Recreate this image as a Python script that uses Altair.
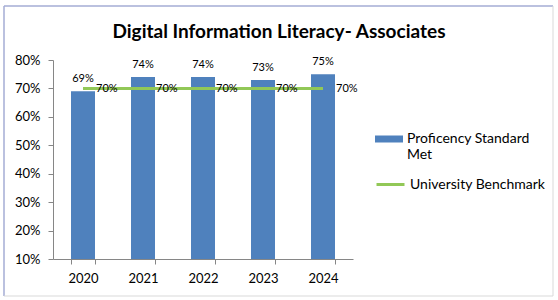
import altair as alt
import pandas as pd

years = ["2020", "2021", "2022", "2023", "2024"]
proficiency = [0.69, 0.74, 0.74, 0.73, 0.75]
benchmark = [0.70, 0.70, 0.70, 0.70, 0.70]
bar_series = "Proficency Standard Met"
line_series = "University Benchmark"
title_text = "Digital Information Literacy- Associates"
y_ticks = [0.1, 0.2, 0.3, 0.4, 0.5, 0.6, 0.7, 0.8]

FONT = "Lato"
BLUE = "#4F81BD"
GREEN = "#92C857"

df = pd.DataFrame({
    "Year": years,
    "value": proficiency,
    "bench": benchmark,
    "s1": [bar_series] * len(years),
    "s2": [line_series] * len(years),
})

x_enc = alt.X(
    "Year:N",
    title=None,
    sort=years,
    scale=alt.Scale(paddingInner=0.6, paddingOuter=0.3),
    axis=alt.Axis(
        labelAngle=0, labelFont=FONT, labelFontSize=13, labelColor="#000000",
        labelPadding=8, domainColor="#868686", tickColor="#868686",
        tickSize=5, tickBand="extent", grid=False,
    ),
)
y_scale = alt.Scale(domain=[0.1, 0.8], clamp=True)


def y_axis():
    return alt.Axis(
        values=y_ticks, format=".0%", labelFont=FONT, labelFontSize=13,
        labelColor="#000000", labelPadding=8, domainColor="#868686",
        tickColor="#868686", tickSize=5, grid=False, labelOverlap=False,
        labelBound=False, labelFlush=False, title=None,
    )


base = alt.Chart(df).encode(x=x_enc)

bars = base.mark_bar().encode(
    y=alt.Y("value:Q", scale=y_scale, title=None, axis=y_axis()),
    y2=alt.datum(0.1),
    color=alt.Color(
        "s1:N",
        scale=alt.Scale(domain=[bar_series], range=[BLUE]),
        legend=alt.Legend(
            title=None, orient="none", legendX=322, legendY=65, padding=0,
            symbolType="M-1,-0.25L1,-0.25L1,0.25L-1,0.25Z", symbolSize=784,
            symbolStrokeWidth=0, labelFont=FONT, labelFontSize=14,
            labelColor="#000000", labelOffset=4, labelLimit=300,
            labelExpr="datum.label == 'Proficency Standard Met' ? ['Proficency Standard', 'Met'] : datum.label",
        ),
    ),
)

bar_labels = base.mark_text(
    baseline="bottom", dy=-7, font=FONT, fontSize=11, color="#000000"
).encode(
    y=alt.Y("value:Q", scale=y_scale, title=None, axis=y_axis()),
    text=alt.Text("value:Q", format=".0%"),
)

line = base.mark_line(strokeWidth=3).encode(
    y=alt.Y("bench:Q", scale=y_scale, title=None, axis=y_axis()),
    stroke=alt.Stroke(
        "s2:N",
        scale=alt.Scale(domain=[line_series], range=[GREEN]),
        legend=alt.Legend(
            title=None, orient="none", legendX=322, legendY=109, padding=0,
            symbolType="stroke", symbolSize=784, symbolStrokeWidth=3,
            labelFont=FONT, labelFontSize=14, labelColor="#000000",
            labelOffset=4, labelLimit=300,
        ),
    ),
)

line_labels = base.mark_text(
    align="left", baseline="middle", dx=13, dy=1, font=FONT, fontSize=11,
    color="#000000"
).encode(
    y=alt.Y("bench:Q", scale=y_scale, title=None, axis=y_axis()),
    text=alt.Text("bench:Q", format=".0%"),
)

title = alt.Chart(pd.DataFrame({"t": [title_text]})).mark_text(
    font=FONT, fontSize=19, fontWeight="bold", color="#000000",
    align="center", baseline="middle",
).encode(x=alt.value(226), y=alt.value(-28), text="t:N")

frame_df = pd.DataFrame({"a": [0]})
frame_left = alt.Chart(frame_df).mark_rule(color="#A4ACD4", strokeWidth=1.5).encode(
    x=alt.value(-49), y=alt.value(-54), y2=alt.value(236))
frame_top = alt.Chart(frame_df).mark_rule(color="#A4ACD4", strokeWidth=1.5).encode(
    x=alt.value(-49), x2=alt.value(500), y=alt.value(-54))
frame_right = alt.Chart(frame_df).mark_rule(color="#D9D9D9", strokeWidth=1).encode(
    x=alt.value(500), y=alt.value(-54), y2=alt.value(236))
frame_bottom = alt.Chart(frame_df).mark_rule(color="#D9D9D9", strokeWidth=1).encode(
    x=alt.value(-49), x2=alt.value(500), y=alt.value(236))

chart = alt.layer(
    frame_left, frame_top, frame_right, frame_bottom,
    bars, line, bar_labels, line_labels, title,
).properties(
    width=300, height=199,
    autosize=alt.AutoSizeParams(type="none"),
    padding={"left": 53, "top": 60, "right": 205, "bottom": 41},
    background="#FFFFFF",
).configure_view(strokeWidth=0).configure_axis(labelOverlap=False)

chart.save("out.html", embed_options={"renderer": "svg", "actions": False})
